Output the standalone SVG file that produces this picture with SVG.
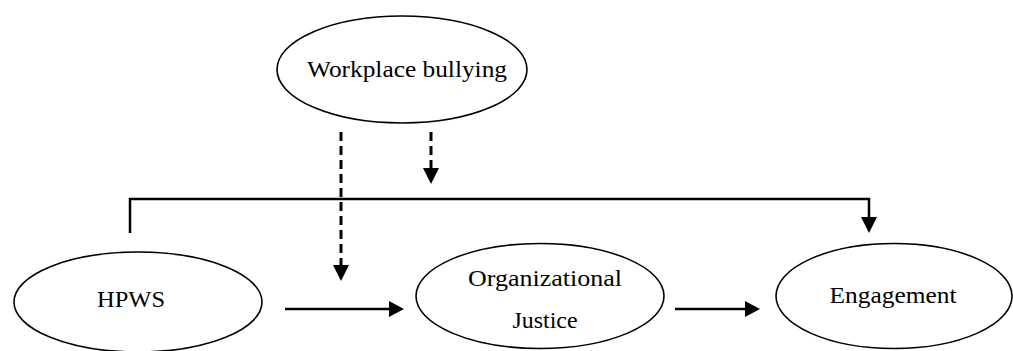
<svg xmlns="http://www.w3.org/2000/svg" width="1013" height="351" viewBox="0 0 1013 351">
<style>
.node ellipse{fill:#fff;stroke:#000;stroke-width:1.6}
.node text{font-family:"Liberation Serif",serif;font-size:24px;fill:#000;text-anchor:middle}
.conn{fill:none;stroke:#000;stroke-width:2.5}
.dash{stroke-dasharray:9 5;stroke-width:3}
</style>
<defs>
<marker id="ah" markerUnits="userSpaceOnUse" markerWidth="16" markerHeight="16" viewBox="0 0 16 16" refX="15" refY="8" orient="auto">
<path d="M0,0 L16,8 L0,16 Z" fill="#000"/>
</marker>
</defs>
<rect width="1013" height="351" fill="#fff"/>
<g id="connectors">
<path class="conn dash" d="M341,132 V266"/>
<path d="M333,265 L349,265 L341,281 Z"/>
<path class="conn dash" d="M431,132 V169"/>
<path d="M423,168 L439,168 L431,184 Z"/>
<path class="conn" d="M130,233 V199 H869 V218"/>
<path d="M861,217 L877,217 L869,233 Z"/>
<path class="conn" d="M285,309 H390"/>
<path d="M389,301 L404,309 L389,317 Z"/>
<path class="conn" d="M675,309 H746"/>
<path d="M745,301 L760,309 L745,317 Z"/>
</g>
<g id="workplace-bullying" class="node">
<ellipse cx="402" cy="69.5" rx="125" ry="53.5"/>
<text x="407" y="77" textLength="200" lengthAdjust="spacingAndGlyphs">Workplace bullying</text>
</g>
<g id="hpws" class="node">
<ellipse cx="138" cy="302" rx="124" ry="50"/>
<text x="131" y="307" textLength="68" lengthAdjust="spacingAndGlyphs">HPWS</text>
</g>
<g id="organizational-justice" class="node">
<ellipse cx="540" cy="296" rx="124" ry="52.5"/>
<text x="545" y="286" textLength="154" lengthAdjust="spacingAndGlyphs">Organizational</text>
<text x="545" y="328" textLength="65" lengthAdjust="spacingAndGlyphs">Justice</text>
</g>
<g id="engagement" class="node">
<ellipse cx="894" cy="296" rx="118" ry="52.5"/>
<text x="893" y="303" textLength="127" lengthAdjust="spacingAndGlyphs">Engagement</text>
</g>
</svg>
